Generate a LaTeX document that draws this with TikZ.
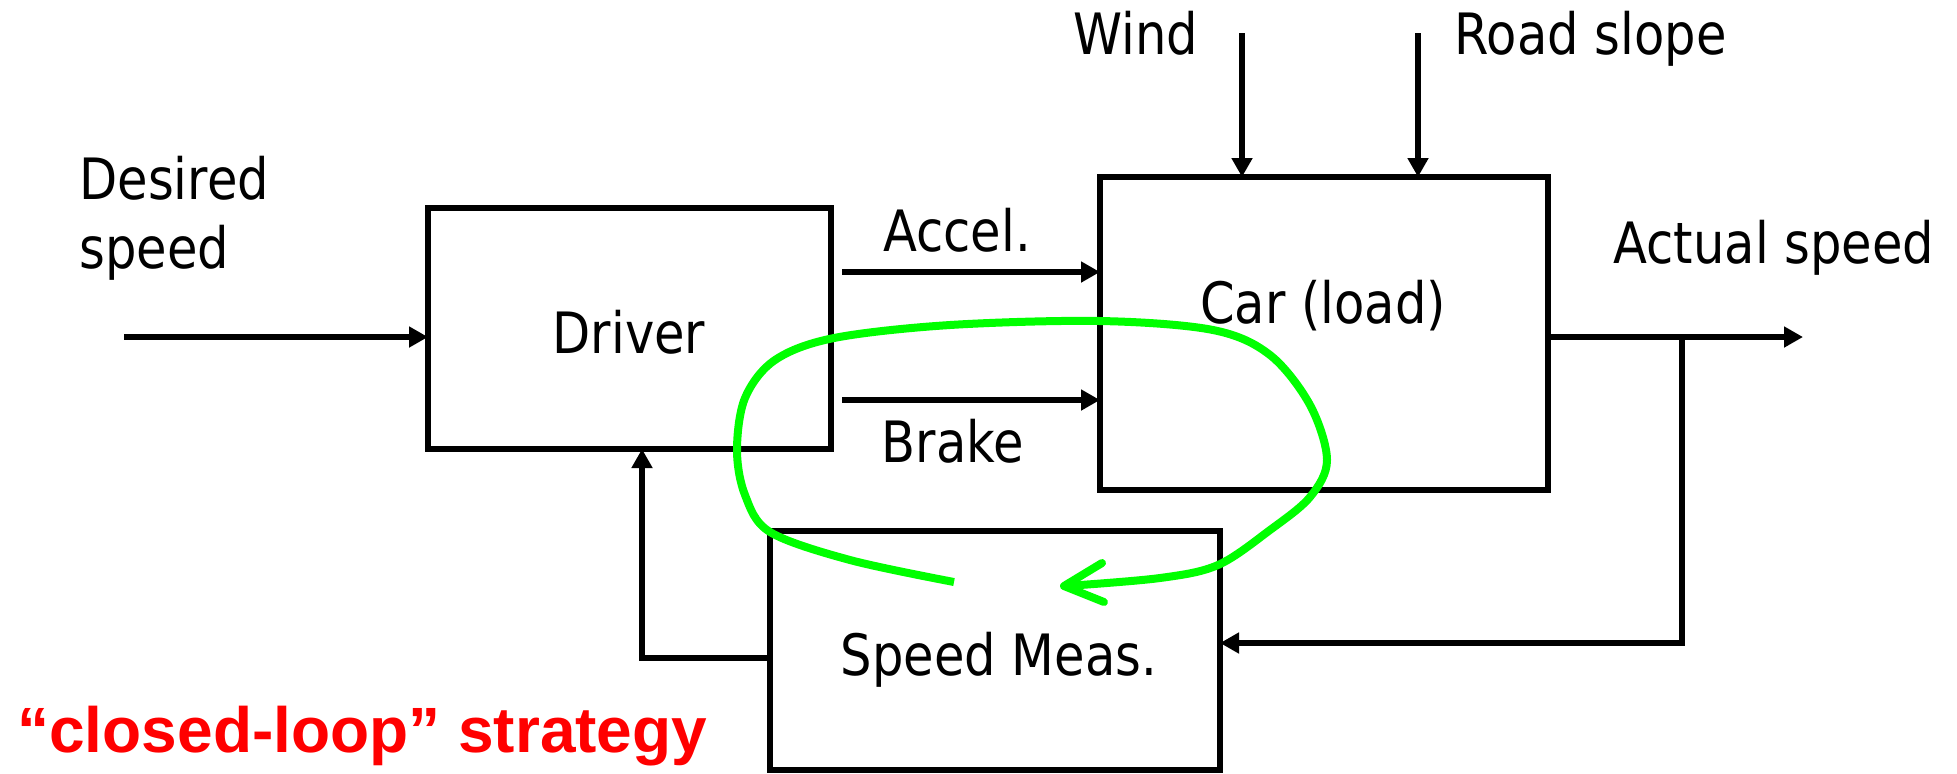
\documentclass[tikz,border=0pt]{standalone}
\usepackage{fontspec}
\usetikzlibrary{arrows.meta}
\newfontfamily\tah{DejaVu Sans}[FakeStretch=0.87]
\newfontfamily\redf{Liberation Sans}
\begin{document}
\begin{tikzpicture}[x=0.5pt,y=-0.5pt,
  box/.style={draw, line width=3.1pt, inner sep=0pt, outer sep=0pt},
  lbl/.style={font=\tah\fontsize{28.5}{34}\selectfont, inner sep=0pt, anchor=base},
  conn/.style={line width=2.9pt, -{Triangle[length=9.5pt,width=10pt]}},
  hand/.style={draw=green, line width=4pt, line join=round}]
\useasboundingbox (0,0) rectangle (1957,773);
% boxes
\node[box, minimum width=201.5pt, minimum height=120.5pt] (driver) at (629.5,328.5) {};
\node[box, minimum width=224pt, minimum height=156.5pt] (car) at (1324,333.5) {};
\node[box, minimum width=225pt, minimum height=119.5pt] (meas) at (995,650.5) {};
% texts
\node[lbl] (tdriver) at (629,353) {Driver};
\node[lbl] (tcar) at (1323,323) {Car (load)};
\node[lbl] (tmeas) at (999,675) {Speed Meas.};
\node[lbl] (taccel) at (957,251) {Accel.};
\node[lbl] (tbrake) at (953,462) {Brake};
\node[lbl, anchor=base west] (tdes1) at (79,199) {Desired};
\node[lbl, anchor=base west] (tdes2) at (79,268) {speed};
\node[lbl, anchor=base west] (twind) at (1073,54) {Wind};
\node[lbl, anchor=base west] (troad) at (1454,54) {Road slope};
\node[lbl, anchor=base west] (tact) at (1613,263) {Actual speed};
\node[font=\redf\bfseries\fontsize{32}{38}\selectfont, text=red, anchor=base west, inner sep=0pt] (tstrat) at (17,752) {“closed-loop” strategy};
% free ends
\coordinate (dsin) at (124,337);
\coordinate (acc0) at (842,272);
\coordinate (brk0) at (842,400);
\coordinate (w0) at (1242,33);
\coordinate (r0) at (1418,33);
\coordinate (out) at (1803,337);
\coordinate (fb) at (1682,337);
\coordinate (fbb) at (1682,643);
\coordinate (sm) at (642,658);
% connectors
\draw[conn] (dsin) -- (dsin -| driver.west);
\draw[conn] (acc0) -- (acc0 -| car.west);
\draw[conn] (brk0) -- (brk0 -| car.west);
\draw[conn] (w0) -- (w0 |- car.north);
\draw[conn] (r0) -- (r0 |- car.north);
\draw[conn] (out -| car.east) -- (out);
\draw[conn] (fb) -- (fbb) -- (fbb -| meas.east);
\draw[conn] (sm -| meas.west) -- (sm) -- (sm |- driver.south);
% green hand-drawn loop
\draw[hand] plot[smooth, tension=0.55] coordinates {(954,582) (850,560) (770,532) (745,495) (737,450) (745,398) (775,360) (834,338) (950,325) (1100,321) (1213,330) (1270,355) (1310,405) (1327,460) (1310,497) (1270,530) (1218,565) (1160,578) (1066,586)};
\draw[hand, line cap=round] (1102,563) -- (1064,586) -- (1104,602);
\end{tikzpicture}
\end{document}
